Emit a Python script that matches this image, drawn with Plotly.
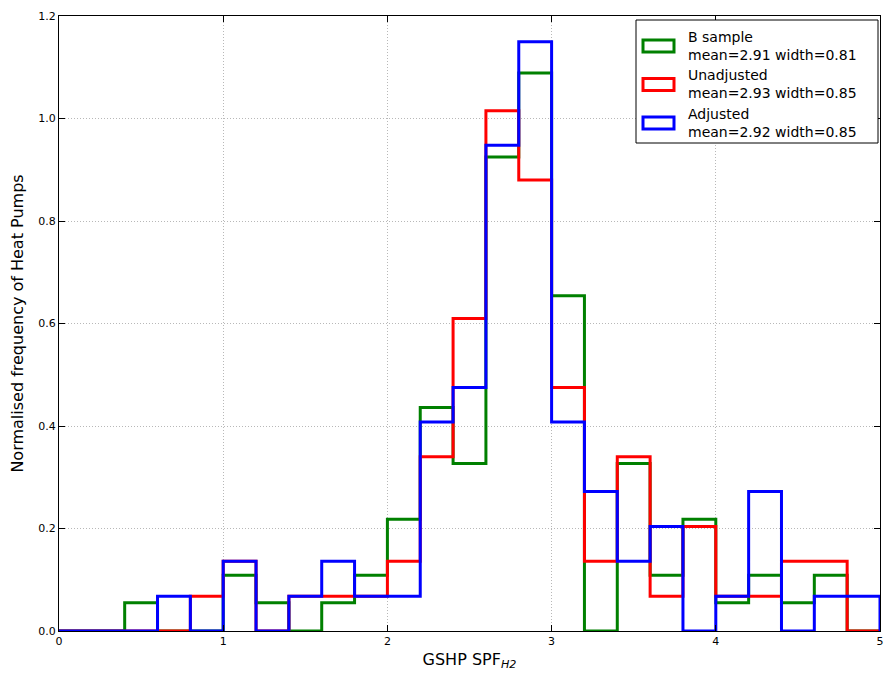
import numpy as np
import plotly.graph_objects as go

# bin edges (width 0.2 from 0 to 5)
edges = np.round(np.arange(0, 5.01, 0.2), 2)

b_sample = [0, 0, 0.055, 0, 0, 0.109, 0.055, 0, 0.055, 0.109,
            0.218, 0.436, 0.327, 0.925, 1.089, 0.654, 0, 0.327, 0.109, 0.218,
            0.055, 0.109, 0.055, 0.109, 0]
unadjusted = [0, 0, 0, 0, 0.068, 0.136, 0, 0.068, 0.068, 0.068,
              0.136, 0.34, 0.61, 1.015, 0.88, 0.475, 0.136, 0.34, 0.068, 0.204,
              0.068, 0.068, 0.136, 0.136, 0]
adjusted = [0, 0, 0, 0.068, 0, 0.136, 0, 0.068, 0.136, 0.068,
            0.068, 0.408, 0.475, 0.948, 1.15, 0.408, 0.272, 0.136, 0.204, 0,
            0.068, 0.272, 0, 0.068, 0.068]

names = ["B sample", "Unadjusted", "Adjusted"]
stats = ["mean=2.91 width=0.81", "mean=2.93 width=0.85", "mean=2.92 width=0.85"]
colors = ["#008000", "#ff0000", "#0000ff"]

FONT = "DejaVu Sans, sans-serif"
# page body has an 8px margin on every side: fit the figure inside it
OFF = 8
W, H = 893 - 2 * OFF, 679 - 2 * OFF
L, R, T, B = 59 - OFF, 5, 16 - OFF, 40

def px(x, y):
    # screen pixel position -> paper coords
    x, y = x - OFF, y - OFF
    return (x - L) / (W - L - R), (H - B - y) / (H - T - B)

def step_path(h):
    xs = np.repeat(edges, 2)
    ys = np.concatenate([[0], np.repeat(h, 2), [0]])
    return xs, ys

fig = go.Figure()
for name, h, col in zip(names, [b_sample, unadjusted, adjusted], colors):
    xs, ys = step_path(np.array(h))
    fig.add_trace(go.Scatter(
        x=xs, y=ys, mode="lines", name=name,
        line=dict(color=col, width=3), showlegend=False,
    ))

# hand-drawn legend (matplotlib style boxes), right edge 2px inside the axes
x0, y0 = px(636, 20)
x1, y1 = px(878, 143)
shapes = [dict(type="rect", xref="paper", yref="paper", x0=x0, y0=y1, x1=x1, y1=y0,
               line=dict(color="black", width=1), fillcolor="white", layer="above")]
annotations = []
for i, (n, s, c) in enumerate(zip(names, stats, colors)):
    top = 40 + i * 38.5
    a0, b0 = px(643, top)
    a1, b1 = px(674, top + 12)
    shapes.append(dict(type="rect", xref="paper", yref="paper", x0=a0, y0=b1, x1=a1, y1=b0,
                       line=dict(color=c, width=3), fillcolor="white", layer="above"))
    tx, ty = px(686, top + 6)
    annotations.append(dict(xref="paper", yref="paper", x=tx, y=ty, xanchor="left",
                            yanchor="middle", align="left", showarrow=False,
                            text=f"{n}<br>{s}", font=dict(size=14, color="black")))

fig.update_layout(
    width=W, height=H,
    margin=dict(l=L, r=R, t=T, b=B),
    plot_bgcolor="white", paper_bgcolor="white",
    font=dict(family=FONT, size=11, color="black"),
    showlegend=False,
    shapes=shapes, annotations=annotations,
)
grid = dict(showgrid=True, gridcolor="#b8b8b8", griddash="1px,2px", gridwidth=1)
fig.update_xaxes(
    range=[0, 5], dtick=1, tickformat="d", automargin=False,
    ticklabeloverflow="allow",
    showline=True, linecolor="black", linewidth=1, mirror="ticks",
    ticks="inside", ticklen=6, tickcolor="black",
    zeroline=False, **grid,
    title=dict(text="GSHP SPF<sub><i>H2</i></sub>", font=dict(size=16), standoff=6),
)
fig.update_yaxes(
    range=[0, 1.2], dtick=0.2, tickformat=".1f", automargin=False,
    ticklabeloverflow="allow",
    showline=True, linecolor="black", linewidth=1, mirror="ticks",
    ticks="inside", ticklen=6, tickcolor="black",
    zeroline=False, **grid,
    title=dict(text="Normalised frequency of Heat Pumps", font=dict(size=16), standoff=14),
)

fig.write_html("out.html")
